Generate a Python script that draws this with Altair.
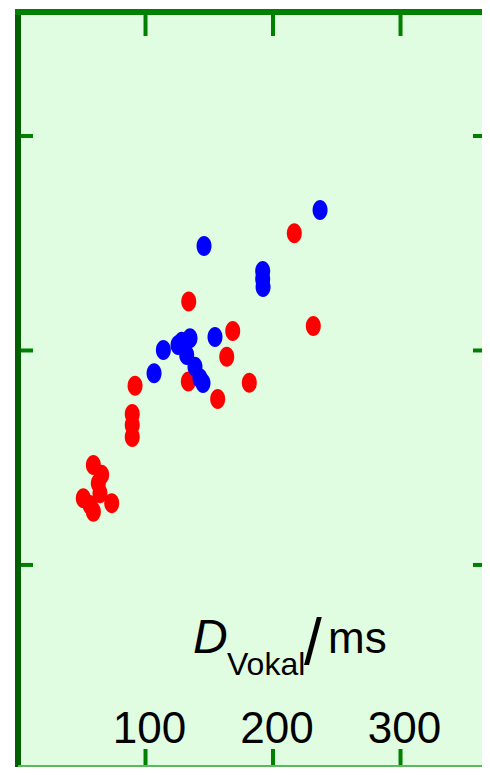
import altair as alt
import pandas as pd

# ---- data ----
blue_ms = [236.9, 145.9, 191.9, 191.9, 192.2, 154.5, 128.4, 134.9, 125.5, 114.0, 132.3, 138.8, 142.7, 145.1, 106.7]
blue_v = [2.655, 2.487, 2.371, 2.333, 2.296, 2.063, 2.041, 2.057, 2.026, 2.002, 1.979, 1.924, 1.870, 1.848, 1.894]

red_ms = [216.7, 133.9, 231.6, 168.4, 163.7, 91.8, 133.6, 181.4, 156.6, 89.6, 89.6, 89.6,
          59.1, 65.6, 63.0, 64.3, 51.2, 73.5, 59.1, 56.5]
red_v = [2.546, 2.228, 2.114, 2.091, 1.971, 1.836, 1.855, 1.850, 1.774, 1.704, 1.653, 1.597,
         1.466, 1.420, 1.381, 1.334, 1.311, 1.288, 1.248, 1.280]

x_ticks = [100, 200, 300]
y_ticks = [1, 2, 3]
title_parts = ["D", "Vokal", "/", "ms"]

# ---- layout / style ----
W, H = 464, 755
GREEN = "#008000"
DARK = "#006000"
LIGHT = "#5cb85c"
BG = "#e1fde1"
FONT = "Liberation Sans, Arial"
ELLIPSE = "M0,-1A0.75,1,0,1,1,0,1A0.75,1,0,1,1,0,-1Z"

xs = alt.Scale(domain=[0, 363.9], nice=False, zero=False)
ys = alt.Scale(domain=[0.058, 3.578], nice=False, zero=False)

blue_df = pd.DataFrame({"ms": blue_ms, "v": blue_v})
red_df = pd.DataFrame({"ms": red_ms, "v": red_v})
xt = pd.DataFrame({"t": x_ticks})
yt = pd.DataFrame({"t": y_ticks})
one = pd.DataFrame({"k": [0]})


def pts(df, color):
    return alt.Chart(df).mark_point(shape=ELLIPSE, filled=True, size=400, opacity=1, color=color).encode(
        x=alt.X("ms:Q", scale=xs, axis=None),
        y=alt.Y("v:Q", scale=ys, axis=None),
    )


red_pts = pts(red_df, "#ff0000")
blue_pts = pts(blue_df, "#0000ff")

top_ticks = alt.Chart(xt).mark_rule(color=GREEN, strokeWidth=4).encode(
    x=alt.X("t:Q", scale=xs, axis=None), y=alt.value(0), y2=alt.value(24))
bottom_ticks = alt.Chart(xt).mark_rule(color=GREEN, strokeWidth=4).encode(
    x=alt.X("t:Q", scale=xs, axis=None), y=alt.value(H - 18), y2=alt.value(H))
left_ticks = alt.Chart(yt).mark_rule(color=GREEN, strokeWidth=4).encode(
    y=alt.Y("t:Q", scale=ys, axis=None), x=alt.value(0), x2=alt.value(15))
right_ticks = alt.Chart(yt).mark_rule(color=GREEN, strokeWidth=4).encode(
    y=alt.Y("t:Q", scale=ys, axis=None), x=alt.value(W - 9), x2=alt.value(W))

# frame (left, top, bottom; right edge is outside the reference picture)
left_edge = alt.Chart(one).mark_rule(color=DARK, strokeWidth=6).encode(
    x=alt.value(0), y=alt.value(-3), y2=alt.value(H + 2))
top_edge = alt.Chart(one).mark_rule(color=GREEN, strokeWidth=6).encode(
    x=alt.value(-3), x2=alt.value(W), y=alt.value(0))
bottom_edge = alt.Chart(one).mark_rule(color=LIGHT, strokeWidth=4).encode(
    x=alt.value(0), x2=alt.value(W), y=alt.value(H))

labels = alt.Chart(xt).mark_text(font=FONT, fontSize=44, color="black", baseline="alphabetic",
                                 align="center", dx=4).encode(
    x=alt.X("t:Q", scale=xs, axis=None), y=alt.value(731), text=alt.Text("t:Q", format="d"))


def part(i, x, y, size, italic=False):
    return alt.Chart(pd.DataFrame({"s": [title_parts[i]]})).mark_text(
        font=FONT, fontSize=size, color="black", baseline="alphabetic", align="left",
        fontStyle="italic" if italic else "normal").encode(
        text="s:N", x=alt.value(x), y=alt.value(y))


t_d = part(0, 175, 641, 48, italic=True)
t_sub = part(1, 209, 663, 32)
t_slash = part(2, 286, 652, 64)
t_ms = part(3, 310, 641, 44)

chart = alt.layer(
    red_pts, blue_pts, top_ticks, bottom_ticks, left_ticks, right_ticks,
    left_edge, top_edge, bottom_edge,
    labels, t_d, t_sub, t_slash, t_ms
).properties(
    width=W, height=H,
    padding={"left": 10, "top": 4, "right": 0, "bottom": 0},
    autosize=alt.AutoSizeParams(type="none"),
).configure_view(
    fill=BG, strokeWidth=0
)

chart.save("out.html", embed_options={"renderer": "svg", "actions": False})
